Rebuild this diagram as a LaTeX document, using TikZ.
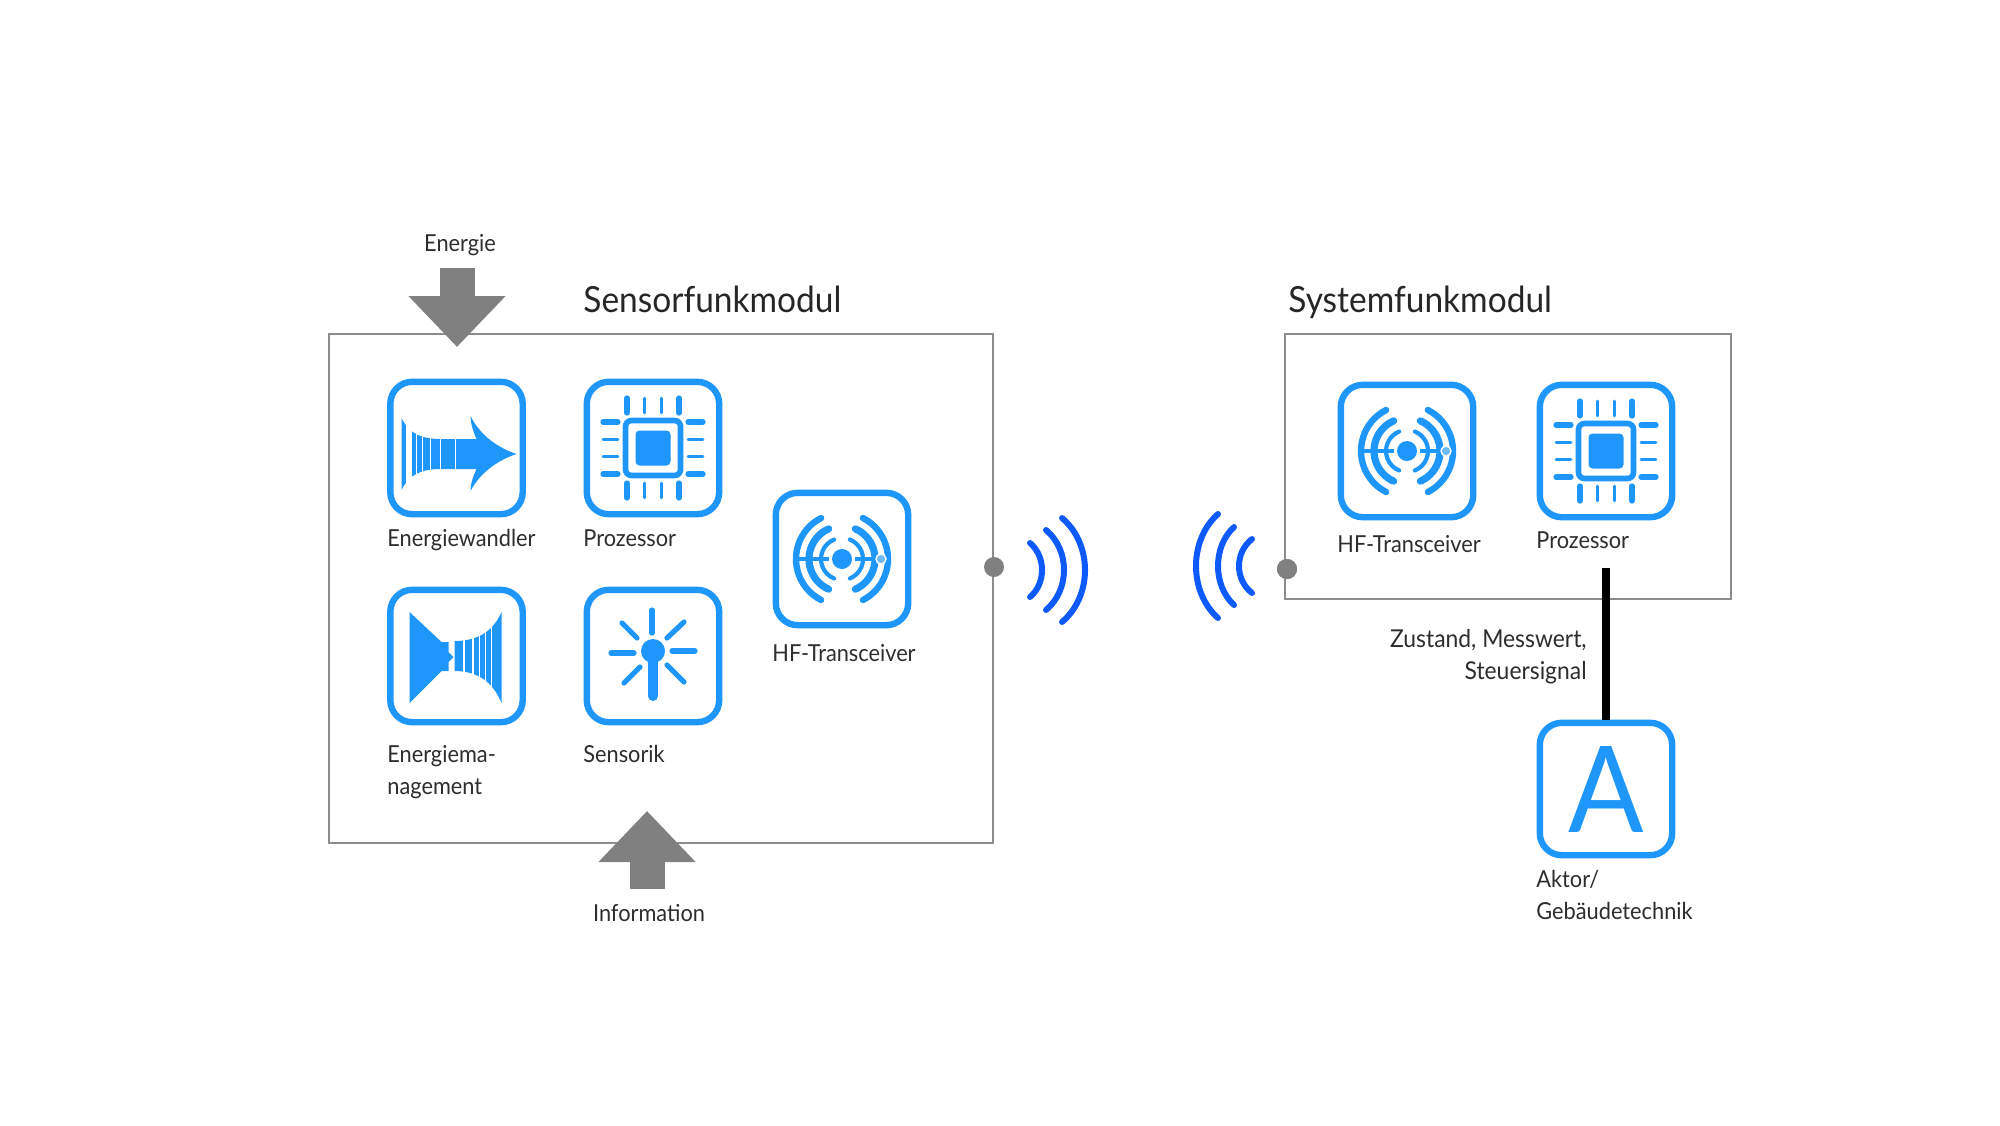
\documentclass[tikz,border=0pt]{standalone}
\usepackage{xcolor}
\usepackage{fontspec}
\setmainfont{Lato}[FakeStretch=0.93]
\usepackage{tikz}
\usetikzlibrary{arrows.meta, positioning, calc}
\definecolor{myblue}{RGB}{30,150,250}
\definecolor{mywave}{RGB}{15,90,255}
\definecolor{mygrey}{RGB}{128,128,128}
\definecolor{myframe}{RGB}{140,140,140}
\definecolor{mytext}{RGB}{45,45,45}
\tikzset{
  iconbox/.style={rectangle, draw=myblue, line width=3.2pt, rounded corners=11pt, minimum size=66.2pt, inner sep=0pt, text=myblue, font=\fontsize{60}{60}\selectfont},
  modul/.style={draw=myframe, line width=1.4pt},
  label/.style={anchor=base west, inner sep=0pt, text=mytext, font=\fontsize{11.7}{16}\selectfont, align=left},
  title/.style={anchor=base west, inner sep=0pt, text=black!85, font=\fontsize{18}{23}\selectfont},
  port/.style={circle, fill=mygrey, minimum size=10pt, inner sep=0pt},
  flow/.style={draw=mygrey, line width=17.5pt, -{Triangle[length=25.5pt,width=47pt,fill=mygrey]}},
  signal/.style={black, line width=4pt},
  wave/.style={mywave, line width=3pt, line cap=round},
  pin/.style={myblue, line width=2.6pt, line cap=round},
  thinpin/.style={myblue, line width=1.3pt, line cap=round},
  pics/chip/.style={code={
    \draw[myblue, line width=2.8pt, rounded corners=3pt] (-27.5,-27.5) rectangle (27.5,27.5);
    \fill[myblue, rounded corners=2pt] (-17.5,-17.5) rectangle (17.5,17.5);
    \foreach \s in {-26,26} {
      \draw[pin] (\s,-50) -- (\s,-35);
      \draw[pin] (\s,35) -- (\s,50);
      \draw[pin] (-50,\s) -- (-35,\s);
      \draw[pin] (35,\s) -- (50,\s);
    }
    \foreach \s in {-8.5,8.5} {
      \draw[thinpin] (\s,-50) -- (\s,-35);
      \draw[thinpin] (\s,35) -- (\s,50);
      \draw[thinpin] (-50,\s) -- (-35,\s);
      \draw[thinpin] (35,\s) -- (50,\s);
    }
  }},
  pics/radio/.style={code={
    \fill[myblue] (0,0) circle (10);
    \draw[myblue, line width=1.8pt] (-47,0) -- (-13,0);
    \draw[myblue, line width=1.8pt] (13,0) -- (36,0);
    \foreach \r/\a/\w in {21/68/2.1, 33/66/3.6, 46/63/3.2} {
      \draw[myblue, line width=\w pt, line cap=round] ({-\r*cos(\a)},{-\r*sin(\a)}) arc[start angle=180+\a, end angle=180-\a, radius=\r];
      \draw[myblue, line width=\w pt, line cap=round] ({\r*cos(\a)},{-\r*sin(\a)}) arc[start angle=-\a, end angle=\a, radius=\r];
    }
    \filldraw[fill=myblue!65, draw=white, line width=0.7pt] (39,0) circle (5);
  }},
  pics/wandler/.style={code={
    \fill[myblue] (-55,-30) .. controls (-47,-14) and (-35,-9) .. (-15,-9) -- (20,-9) .. controls (16,-18) and (14,-26) .. (14,-32)
      .. controls (24,-12) and (42,0) .. (60,6) .. controls (42,12) and (24,24) .. (14,43) .. controls (14,36) and (16,30) .. (20,21)
      -- (-15,21) .. controls (-35,21) and (-47,26) .. (-55,42) -- cycle;
    \foreach \xa/\xb in {-51/-45, -41/-39.5, -35/-33.5, -27/-26} {
      \fill[white] (\xa,-35) rectangle (\xb,47);
    }
    \foreach \xa in {-16, -1} {
      \draw[white, line width=0.3pt] (\xa,-15) -- (\xa,27);
    }
  }},
  pics/management/.style={code={
    \fill[myblue] (-47,-44) -- (-15,-14) -- (-8,-14) -- (-8,-4) -- (-3,1) -- (-8,6) -- (-8,15) -- (-15,15) -- (-47,47) -- cycle;
    \fill[myblue] (-2,-15) .. controls (25,-15) and (38,-28) .. (45,-44) -- (45,47) .. controls (38,30) and (25,15) .. (-2,15) -- cycle;
    \foreach \xa/\xb in {6/8.5, 15/17, 22/23.5, 28/29.5, 34/35.5} {
      \fill[white] (\xa,-47) rectangle (\xb,50);
    }
  }},
  pics/sensor/.style={code={
    \fill[myblue] (0,-5) circle (12);
    \draw[myblue, line width=5pt, line cap=round] (0,-5) -- (0,40);
    \foreach \xa/\ya/\xb/\yb in {-1/-46/-1/-23, 19/-5/42/-5, -19/-3/-42/-3, 14/-18/31/-34, -16/-18/-31/-33, 14/9/31/26, -13/11/-29/27} {
      \draw[pin] (\xa,\ya) -- (\xb,\yb);
    }
  }}
}
\begin{document}
\begin{tikzpicture}[x=0.5pt, y=-0.5pt]
  \useasboundingbox (0,0) rectangle (2000,1125);

  % Sensorfunkmodul
  \draw[modul] (329,334) rectangle (993,843);
  \node[title] (sensortitle) at (583,312) {Sensorfunkmodul};
  \node[iconbox] (wandler) at (456.5,448) {};
  \node[iconbox] (prozessor) at (653,448) {};
  \node[iconbox] (management) at (456.5,656) {};
  \node[iconbox] (sensorik) at (653,656) {};
  \node[iconbox] (transceiver) at (842,559) {};
  \pic at (wandler) {wandler};
  \pic at (prozessor) {chip};
  \pic at (management) {management};
  \pic at (sensorik) {sensor};
  \pic at (transceiver) {radio};
  \node[label] (wandlertext) at (387,546) {Energiewandler};
  \node[label] (prozessortext) at (583,546) {Prozessor};
  \node[label, anchor=north west] (managementtext) at (387,745) {Energiema-\\nagement};
  \node[label] (sensoriktext) at (583,762) {Sensorik};
  \node[label] (transceivertext) at (772,661) {HF-Transceiver};

  % Energie und Information
  \coordinate (energiestart) at (457,268);
  \coordinate (energieend) at (457,347);
  \coordinate (infostart) at (647,889);
  \coordinate (infoend) at (647,811);
  \draw[flow] (energiestart) -- (energieend);
  \draw[flow] (infostart) -- (infoend);
  \node[label, anchor=base] (energietext) at (460,251) {Energie};
  \node[label, anchor=base] (infotext) at (649,921) {Information};

  % Funkstrecke
  \node[port] (sendeport) at (994,567) {};
  \node[port] (empfangsport) at (1287,569) {};
  \foreach \xa/\xb/\dy in {1030/1042/27, 1046/1064/40, 1062/1085/52} {
    \draw[wave] (\xa,570-\dy) .. controls ({\xa+4/3*(\xb-\xa)},570-0.5*\dy) and ({\xa+4/3*(\xb-\xa)},570+0.5*\dy) .. (\xa,570+\dy);
  }
  \foreach \xa/\xb/\dy in {1252/1239/27, 1234/1218/39, 1218/1196/52} {
    \draw[wave] (\xa,566-\dy) .. controls ({\xa+4/3*(\xb-\xa)},566-0.5*\dy) and ({\xa+4/3*(\xb-\xa)},566+0.5*\dy) .. (\xa,566+\dy);
  }

  % Systemfunkmodul
  \draw[modul] (1285,334) rectangle (1731,599);
  \node[port] at (empfangsport) {};
  \node[title] (systemtitle) at (1288,312) {Systemfunkmodul};
  \node[iconbox] (systemtransceiver) at (1407,451) {};
  \node[iconbox] (systemprozessor) at (1606,451) {};
  \pic at (systemtransceiver) {radio};
  \pic at (systemprozessor) {chip};
  \node[label] (systemtransceivertext) at (1337,552) {HF-Transceiver};
  \node[label] (systemprozessortext) at (1536,548) {Prozessor};

  % Aktor
  \node[iconbox] (aktor) at (1606,789) {A};
  \coordinate (signalstart) at (1606,568);
  \draw[signal] (signalstart) -- (aktor.north);
  \node[label, anchor=north east, align=right, font=\fontsize{12.3}{16}\selectfont] (signaltext) at (1587,629) {Zustand, Messwert,\\Steuersignal};
  \node[label, anchor=north west] (aktortext) at (1536,870) {Aktor/\\Gebäudetechnik};
\end{tikzpicture}
\end{document}
